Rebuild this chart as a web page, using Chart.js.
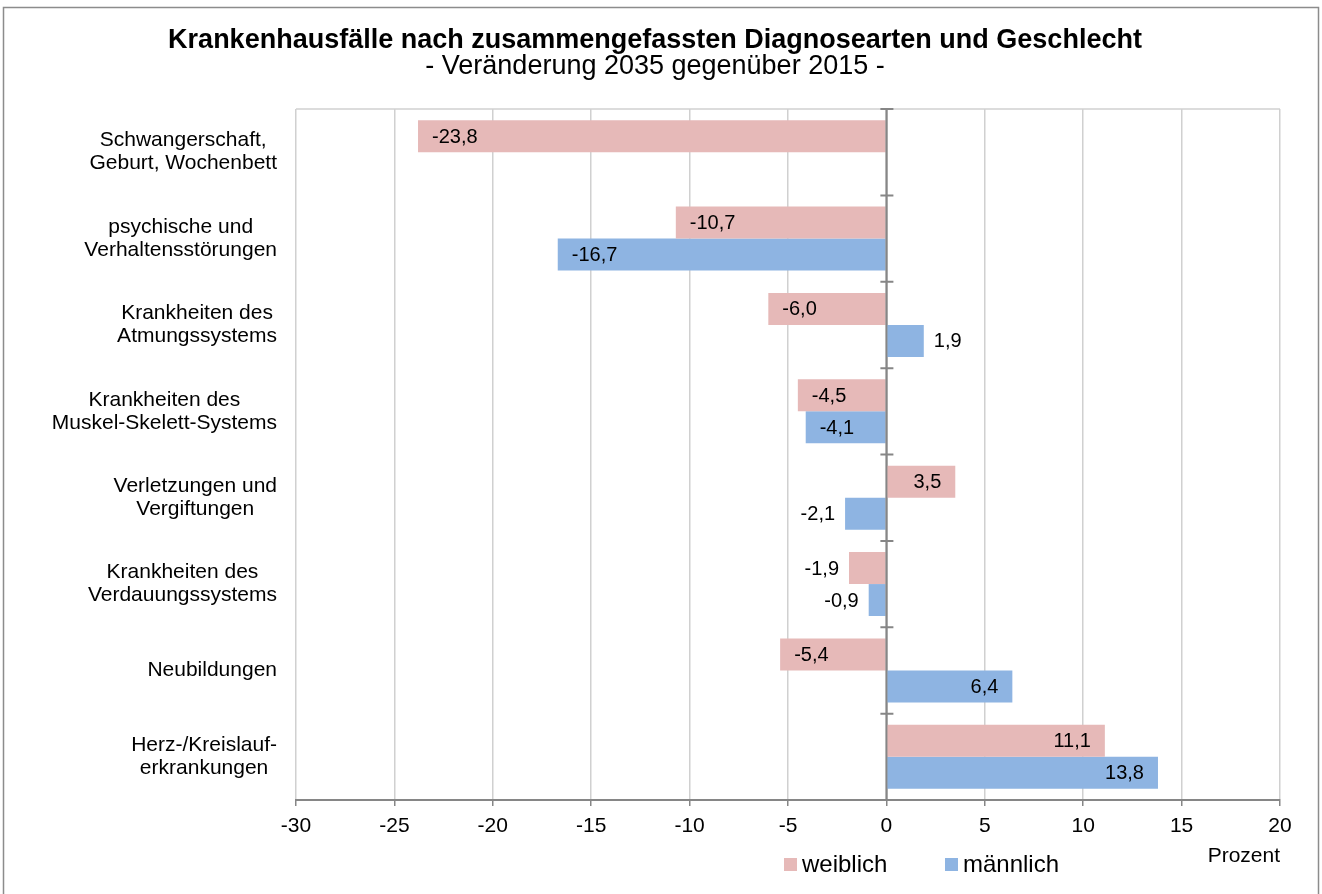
<!DOCTYPE html>
<html lang="de">
<head>
<meta charset="utf-8">
<title>Krankenhausfälle nach Diagnosearten und Geschlecht</title>
<script src="https://cdn.jsdelivr.net/npm/chart.js@4/dist/chart.umd.min.js"></script>
<style>
  html, body { margin: 0; padding: 0; background: #fff; }
  #wrap { position: relative; width: 1322px; height: 894px; }
</style>
</head>
<body>
<div id="wrap"><canvas id="chart"></canvas></div>
<script>
const categories = [
    ['Schwangerschaft,', 'Geburt, Wochenbett'],
    ['psychische und', 'Verhaltensstörungen'],
    ['Krankheiten des', 'Atmungssystems'],
    ['Krankheiten des', 'Muskel-Skelett-Systems'],
    ['Verletzungen und', 'Vergiftungen'],
    ['Krankheiten des', 'Verdauungssystems'],
    ['Neubildungen'],
    ['Herz-/Kreislauf-', 'erkrankungen']
];
const weiblich = [-23.8, -10.7, -6.0, -4.5, 3.5, -1.9, -5.4, 11.1];
const maennlich = [null, -16.7, 1.9, -4.1, -2.1, -0.9, 6.4, 13.8];
const seriesNames = ['weiblich', 'männlich'];
const xMin = -30, xMax = 20, xStep = 5;

const titleText = 'Krankenhausfälle nach zusammengefassten Diagnosearten und Geschlecht';
const subtitleText = '- Veränderung 2035 gegenüber 2015 -';
const unitText = 'Prozent';

const FONT = '"Liberation Sans", Arial, sans-serif';
const PINK = '#E6B9B8';
const BLUE = '#8EB4E2';
const AXIS = '#868686';

const fmt = v => v.toFixed(1).replace('.', ',');

const decor = {
    id: 'decor',
    afterDatasetsDraw(chart) {
        const { ctx, chartArea: a, scales: { x } } = chart;
        ctx.save();

        // top edge of plot area
        ctx.strokeStyle = '#d0d0d0';
        ctx.lineWidth = 1.5;
        ctx.beginPath();
        ctx.moveTo(a.left, a.top);
        ctx.lineTo(a.right, a.top);
        ctx.stroke();

        // vertical axis at zero with category tick marks
        const x0 = x.getPixelForValue(0);
        ctx.strokeStyle = AXIS;
        ctx.lineWidth = 2;
        ctx.beginPath();
        ctx.moveTo(x0, a.top);
        ctx.lineTo(x0, a.bottom);
        const band = a.height / categories.length;
        for (let i = 0; i < categories.length; i++) {
            const yy = a.top + i * band;
            ctx.moveTo(x0 - 6, yy);
            ctx.lineTo(x0 + 7, yy);
        }
        ctx.stroke();

        // value labels
        const gap = 14;
        ctx.font = '20px ' + FONT;
        ctx.fillStyle = '#000';
        ctx.textAlign = 'center';
        ctx.textBaseline = 'middle';
        chart.data.datasets.forEach((ds, d) => {
            chart.getDatasetMeta(d).data.forEach((bar, i) => {
                const v = ds.data[i];
                if (v == null) return;
                const txt = fmt(v);
                const w = ctx.measureText(txt).width;
                const len = Math.abs(bar.x - bar.base);
                const sign = v < 0 ? -1 : 1;
                let tx;
                if (len >= w + 2 * gap) {
                    tx = bar.x - sign * (gap + w / 2);
                } else {
                    tx = bar.x + sign * (10 + w / 2);
                }
                ctx.fillText(txt, tx, bar.y + 1);
            });
        });
        ctx.restore();
    },
    afterDraw(chart) {
        const { ctx, chartArea: a, scales: { y } } = chart;
        ctx.save();
        ctx.fillStyle = '#000';

        // title
        ctx.textAlign = 'center';
        ctx.textBaseline = 'alphabetic';
        ctx.font = 'bold 27px ' + FONT;
        ctx.fillText(titleText, 655, 48);
        ctx.font = '27px ' + FONT;
        ctx.fillText(subtitleText, 655, 74);

        // category labels, centred lines, block right-aligned
        ctx.font = '21px ' + FONT;
        ctx.textBaseline = 'middle';
        const right = a.left - 19;
        const lh = 23;
        categories.forEach((lines, i) => {
            const cy = y.getPixelForValue(i);
            const w = Math.max(...lines.map(s => ctx.measureText(s).width));
            const cx = right - w / 2;
            lines.forEach((s, k) => {
                ctx.fillText(s, cx, cy + (k - (lines.length - 1) / 2) * lh);
            });
        });

        // unit label
        ctx.textAlign = 'right';
        ctx.textBaseline = 'alphabetic';
        ctx.font = '21px ' + FONT;
        ctx.fillText(unitText, a.right, 862);

        // legend
        ctx.font = '24px ' + FONT;
        ctx.textAlign = 'left';
        const legendX = [784, 945];
        chart.data.datasets.forEach((ds, d) => {
            ctx.fillStyle = ds.backgroundColor;
            ctx.fillRect(legendX[d], 858, 13, 13);
            ctx.fillStyle = '#000';
            ctx.fillText(ds.label, legendX[d] + 18, 872);
        });

        // outer frame
        ctx.strokeStyle = '#8c8c8c';
        ctx.lineWidth = 1.5;
        ctx.strokeRect(3.5, 7.5, 1315, 900);
        ctx.restore();
    }
};

const chart = new Chart(document.getElementById('chart').getContext('2d'), {
    type: 'bar',
    data: {
        labels: categories,
        datasets: [
            { label: seriesNames[0], data: weiblich, backgroundColor: PINK },
            { label: seriesNames[1], data: maennlich, backgroundColor: BLUE }
        ]
    },
    options: {
        indexAxis: 'y',
        responsive: true,
        maintainAspectRatio: false,
        animation: false,
        layout: { padding: { top: 109, left: 296, right: 42, bottom: 0 } },
        categoryPercentage: 0.74,
        barPercentage: 1.0,
        plugins: {
            legend: { display: false },
            title: { display: false },
            tooltip: { enabled: false }
        },
        scales: {
            x: {
                min: xMin,
                max: xMax,
                ticks: {
                    stepSize: xStep,
                    color: '#000',
                    padding: 8,
                    font: { family: FONT, size: 21 }
                },
                grid: {
                    color: c => c.tick && c.tick.value === 0 ? AXIS : '#d0d0d0',
                    lineWidth: 1.5,
                    tickLength: 6,
                    tickColor: AXIS
                },
                border: { color: AXIS, width: 2 },
                afterFit: s => { s.height = 94; }
            },
            y: {
                ticks: { display: false },
                grid: { display: false },
                border: { display: false },
                afterFit: s => { s.width = 0; }
            }
        }
    },
    plugins: [decor]
});
</script>
</body>
</html>
